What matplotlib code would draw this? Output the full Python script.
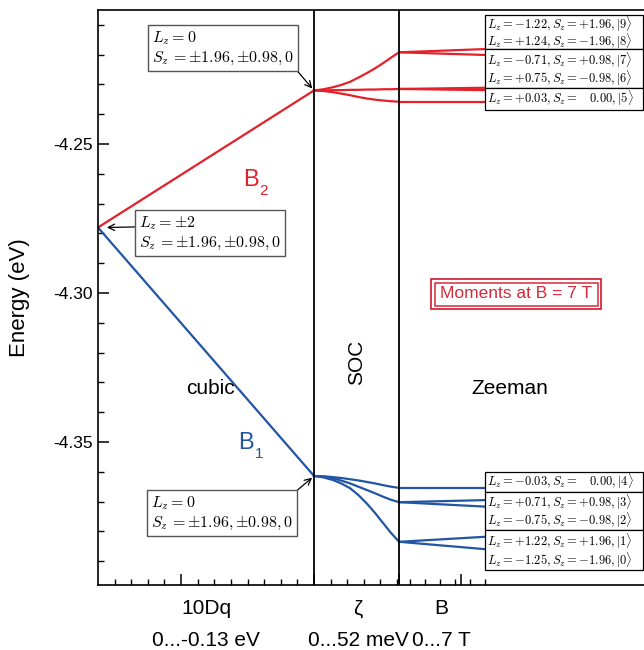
import matplotlib
matplotlib.use("Agg")
import matplotlib.pyplot as plt
from matplotlib.patches import Rectangle

plt.rcParams["font.family"] = ["Liberation Sans", "DejaVu Sans"]
plt.rcParams["mathtext.fontset"] = "cm"

RED = "#e4202a"
BLUE = "#2255a4"
MOM = "#d42a3c"

# x positions of the three stages (cubic -> SOC -> Zeeman), in 0.01 eV units of 10Dq
x_cubic = [0, 13]
x_soc = [13, 13.58, 14.16, 14.67, 15.17, 15.67, 16.17, 16.67, 17.17, 17.63, 18.12]
x_zee = [18.12, 23.35]

# cubic field: B2 goes up, B1 goes down
e_b2_cubic = [-4.2780, -4.2320]
e_b1_cubic = [-4.2780, -4.3614]

# spin-orbit coupling
soc_red = [
    [-4.2320, -4.2316, -4.2309, -4.2301, -4.2291, -4.2277, -4.2262, -4.2246, -4.2228, -4.2210, -4.2192],
    [-4.2320, -4.2320, -4.2319, -4.2319, -4.2318, -4.2318, -4.2317, -4.2317, -4.2316, -4.2316, -4.2315],
    [-4.2320, -4.2322, -4.2326, -4.2331, -4.2336, -4.2342, -4.2347, -4.2351, -4.2354, -4.2356, -4.2358],
]
soc_blue = [
    [-4.3614, -4.3615, -4.3618, -4.3621, -4.3625, -4.3629, -4.3634, -4.3639, -4.3645, -4.3650, -4.3654],
    [-4.3614, -4.3617, -4.3622, -4.3630, -4.3639, -4.3650, -4.3661, -4.3672, -4.3684, -4.3694, -4.3702],
    [-4.3614, -4.3619, -4.3628, -4.3640, -4.3655, -4.3678, -4.3706, -4.3738, -4.3773, -4.3805, -4.3835],
]

# Zeeman splitting, states |9> ... |0>
zee_red = [
    [-4.2192, -4.2181],
    [-4.2192, -4.2201],
    [-4.2315, -4.2311],
    [-4.2315, -4.2319],
    [-4.2358, -4.2358],
]
zee_blue = [
    [-4.3654, -4.3654],
    [-4.3702, -4.3695],
    [-4.3702, -4.3717],
    [-4.3835, -4.3818],
    [-4.3835, -4.3860],
]

labels_top = [
    r"$L_z = -1.22, S_z = +1.96, |9\rangle$",
    r"$L_z = +1.24, S_z = -1.96, |8\rangle$",
    r"$L_z = -0.71, S_z = +0.98, |7\rangle$",
    r"$L_z = +0.75, S_z = -0.98, |6\rangle$",
    r"$L_z = +0.03, S_z = \ \ \ 0.00, |5\rangle$",
]
labels_bot = [
    r"$L_z = -0.03, S_z = \ \ \ 0.00, |4\rangle$",
    r"$L_z = +0.71, S_z = +0.98, |3\rangle$",
    r"$L_z = -0.75, S_z = -0.98, |2\rangle$",
    r"$L_z = +1.22, S_z = +1.96, |1\rangle$",
    r"$L_z = -1.25, S_z = -1.96, |0\rangle$",
]

W, H = 644, 650
fig = plt.figure(figsize=(W / 100, H / 100), dpi=100)
ax = fig.add_axes([98 / W, 65 / H, (W - 98) / W, 575 / H])


def fp(x, y):
    # pixel position -> figure fraction
    return x / W, 1 - y / H


lw = 1.6
ax.plot(x_cubic, e_b2_cubic, color=RED, lw=lw)
ax.plot(x_cubic, e_b1_cubic, color=BLUE, lw=lw)
for e in soc_red:
    ax.plot(x_soc, e, color=RED, lw=lw)
for e in soc_blue:
    ax.plot(x_soc, e, color=BLUE, lw=lw)
for e in zee_red:
    ax.plot(x_zee, e, color=RED, lw=lw)
for e in zee_blue:
    ax.plot(x_zee, e, color=BLUE, lw=lw)

ax.axvline(x_soc[0], color="black", lw=1.3)
ax.axvline(x_zee[0], color="black", lw=1.3)

ax.set_xlim(0, 32.86)
ax.set_ylim(-4.398, -4.205)
ax.spines["right"].set_visible(False)
for s in ["left", "top", "bottom"]:
    ax.spines[s].set_linewidth(1.2)

ax.set_yticks([-4.25, -4.30, -4.35])
ax.set_yticklabels(["-4.25", "-4.30", "-4.35"], fontsize=12.5)
ax.set_yticks([-4.39, -4.38, -4.37, -4.36, -4.34, -4.33, -4.32, -4.31,
               -4.29, -4.28, -4.27, -4.26, -4.24, -4.23, -4.22, -4.21], minor=True)
ax.set_xticks([5, 13, 18.12, 21.85])
ax.set_xticklabels([])
ax.set_xticks([1, 2, 3, 4, 6, 7, 8, 9, 10, 11, 12, 14, 15, 16, 17, 18,
               18.78, 19.68, 20.58, 21.49, 22.39, 23.29], minor=True)
ax.tick_params(which="major", direction="in", length=8, width=1.1, pad=4)
ax.tick_params(which="minor", direction="in", length=4.5, width=1.0)
ax.tick_params(axis="y", right=False)
ax.tick_params(axis="x", top=False)
ax.set_ylabel("Energy (eV)", fontsize=16)
ax.yaxis.set_label_coords(-0.125, 0.5)

# region labels
fig.text(*fp(210, 388), "cubic", fontsize=15, ha="center", va="center")
fig.text(*fp(357, 362), "SOC", fontsize=15, ha="center", va="center", rotation=90)
fig.text(*fp(510, 388), "Zeeman", fontsize=15, ha="center", va="center")
fig.text(*fp(251, 180), "B", fontsize=17, color=RED, ha="center", va="center")
fig.text(*fp(264, 191), "2", fontsize=11, color=RED, ha="center", va="center")
fig.text(*fp(246, 443), "B", fontsize=17, color=BLUE, ha="center", va="center")
fig.text(*fp(259, 454), "1", fontsize=11, color=BLUE, ha="center", va="center")

fig.text(*fp(206, 609), "10Dq", fontsize=15, ha="center", va="center")
fig.text(*fp(358, 609), "\u03b6", fontsize=15, ha="center", va="center")
fig.text(*fp(441, 609), "B", fontsize=15, ha="center", va="center")
fig.text(*fp(206, 640), "0...-0.13 eV", fontsize=15, ha="center", va="center")
fig.text(*fp(358, 640), "0...52 meV", fontsize=15, ha="center", va="center")
fig.text(*fp(441, 640), "0...7 T", fontsize=15, ha="center", va="center")

# annotation boxes on the left
box = dict(boxstyle="square,pad=0.25", fc="white", ec="#555555", lw=1.0)
sz_line = "$S_z\\,=\\pm1.96, {\\pm}0.98, 0$"
txt_lz0 = "$L_z = 0$\n" + sz_line
ax.annotate(txt_lz0, xy=(x_soc[0] - 0.05, e_b2_cubic[1] + 0.0003), xycoords="data",
            xytext=fp(152, 29), textcoords="figure fraction", ha="left", va="top",
            fontsize=11.5, bbox=box, linespacing=1.25,
            arrowprops=dict(arrowstyle="->", color="black", lw=0.9, relpos=(1, 0),
                            shrinkA=0, shrinkB=1))
ax.annotate("$L_z = \\pm 2$\n" + sz_line,
            xy=(0.45, e_b2_cubic[0]), xycoords="data",
            xytext=fp(139, 214), textcoords="figure fraction", ha="left", va="top",
            fontsize=11.5, bbox=box, linespacing=1.25,
            arrowprops=dict(arrowstyle="->", color="black", lw=0.9, relpos=(0, 0.66),
                            shrinkA=0, shrinkB=1))
ax.annotate(txt_lz0, xy=(x_soc[0] - 0.05, e_b1_cubic[1] - 0.0003), xycoords="data",
            xytext=fp(151, 494), textcoords="figure fraction", ha="left", va="top",
            fontsize=11.5, bbox=box, linespacing=1.25,
            arrowprops=dict(arrowstyle="->", color="black", lw=0.9, relpos=(1, 1),
                            shrinkA=0, shrinkB=1))

# state labels on the right: box spans (top, bottom) and row centres, in pixels
boxes_top = [(15, 49.3), (49.3, 87.7), (87.7, 110)]
rows_top = [24.5, 41.5, 60.5, 78, 98.5]
boxes_bot = [(471.7, 491.7), (491.7, 530), (530, 570)]
rows_bot = [481.5, 502.5, 520.5, 541, 560]
for boxes, rows, labels in [(boxes_top, rows_top, labels_top),
                            (boxes_bot, rows_bot, labels_bot)]:
    for y0, y1 in boxes:
        x0f, y1f = fp(485, y1)
        fig.patches.append(Rectangle((x0f, y1f), (643 - 485) / W, (y1 - y0) / H,
                                     transform=fig.transFigure, fc="white",
                                     ec="black", lw=0.9, zorder=3))
    for yc, lab in zip(rows, labels):
        fig.text(*fp(487, yc), lab, fontsize=9.0, ha="left", va="center", zorder=4)

# moments box (double border)
fig.text(*fp(516, 294), "Moments at B = 7 T", fontsize=12.5, color=MOM,
         ha="center", va="center")
xa, ya = fp(431, 309)
fig.patches.append(Rectangle((xa, ya), (601 - 431) / W, 30 / H,
                             transform=fig.transFigure, fill=False, ec=MOM, lw=1.3))
xb, yb = fp(434.5, 305.5)
fig.patches.append(Rectangle((xb, yb), (597.5 - 434.5) / W, 23 / H,
                             transform=fig.transFigure, fill=False, ec=MOM, lw=1.1))

fig.savefig("out.png", dpi=100)
